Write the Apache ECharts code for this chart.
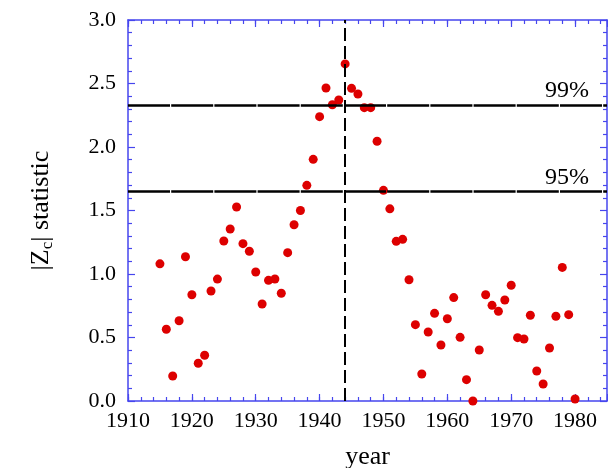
<!DOCTYPE html>
<html>
<head>
<meta charset="utf-8">
<script src="https://cdn.jsdelivr.net/npm/echarts@6/dist/echarts.min.js"></script>
<style>
html,body{margin:0;padding:0;background:#fff;}
#chart{width:608px;height:468px;}
</style>
</head>
<body>
<div id="chart"></div>
<script>
var years = [1915,1916,1917,1918,1919,1920,1921,1922,1923,1924,1925,1926,1927,1928,1929,1930,
  1931,1932,1933,1934,1935,1936,1937,1938,1939,1940,1941,1942,1943,1944,1945,1946,1947,1948,1949,1950,
  1951,1952,1953,1954,1955,1956,1957,1958,1959,1960,1961,1962,1963,1964,1965,1966,1967,1968,1969,1970,
  1971,1972,1973,1974,1975,1976,1977,1978,1979,1980];
var zStat = [1.08,0.565,0.197,0.632,1.136,0.837,0.297,0.36,0.866,0.96,1.26,1.354,1.528,1.239,1.179,1.016,
  0.764,0.95,0.961,0.848,1.168,1.388,1.50,1.698,1.903,2.239,2.465,2.333,2.37,2.654,2.462,2.417,2.31,2.31,2.045,1.659,
  1.513,1.257,1.273,0.955,0.601,0.213,0.543,0.69,0.441,0.648,0.814,0.501,0.168,0.0,0.402,0.837,0.753,0.706,0.795,0.911,
  0.499,0.488,0.675,0.236,0.134,0.417,0.667,1.052,0.68,0.016];
var levels = [2.326, 1.645];
var levelLabels = ['99%', '95%'];
var changeYear = 1944;
var xTicks = ['1910','1920','1930','1940','1950','1960','1970','1980'];

var FONT = "'Liberation Serif','Times New Roman',serif";
var AX = '#4646ee';
var chart = echarts.init(document.getElementById('chart'));

function xAx(pos, interval, tickLen, showLine, showLabel) {
  return {
    type: 'value', position: pos, min: 1910, max: 1985, interval: interval,
    splitLine: {show: false},
    axisLine: {show: showLine, lineStyle: {color: AX, width: 1.5}},
    axisTick: {show: true, inside: true, length: tickLen, lineStyle: {color: AX, width: 1.2}},
    axisLabel: {show: showLabel, color: '#000', fontFamily: FONT, fontSize: 22, margin: 9,
      formatter: function (v) { return xTicks.indexOf(String(v)) >= 0 ? String(v) : ''; }},
    name: showLabel ? 'year' : '', nameLocation: 'middle', nameGap: 43,
    nameTextStyle: {color: '#000', fontFamily: FONT, fontSize: 26}
  };
}
function yAx(pos, showLabel) {
  return {
    type: 'value', position: pos, min: 0, max: 3, interval: 0.5,
    splitLine: {show: false},
    axisLine: {show: true, lineStyle: {color: AX, width: 1.5}},
    axisTick: {show: true, inside: true, length: 7, lineStyle: {color: AX, width: 1.2}},
    minorTick: {show: true, splitNumber: 5, length: 4, lineStyle: {color: AX, width: 1.2}},
    axisLabel: {show: showLabel, color: '#000', fontFamily: FONT, fontSize: 22, margin: 12,
      formatter: function (v) { return v.toFixed(1); }},
    name: showLabel ? '|Z{sub|c}| statistic' : '', nameLocation: 'middle', nameGap: 72, nameRotate: 90,
    nameTextStyle: {color: '#000', fontFamily: FONT, fontSize: 26,
      rich: {sub: {fontFamily: FONT, fontSize: 17, color: '#000', verticalAlign: 'bottom', padding: [12, 0, 0, 0]}}}
  };
}

var markData = levels.map(function (v, i) {
  return {yAxis: v, label: {show: true, formatter: levelLabels[i], position: 'insideEndTop',
    color: '#000', fontFamily: FONT, fontSize: 24, distance: [18, 2]},
    lineStyle: {color: '#000', width: 2.5, type: [42, 1.2]}};
});
markData.push({xAxis: changeYear, label: {show: false},
  lineStyle: {color: '#000', width: 2, type: [13, 5]}});

chart.setOption({
  animation: false,
  grid: {left: 128, right: 1, top: 20, bottom: 67, containLabel: false, outerBoundsMode: 'none'},
  xAxis: [
    xAx('bottom', 10, 7, true, true),
    xAx('bottom', 2, 4, false, false),
    xAx('top', 10, 7, true, false),
    xAx('top', 2, 4, false, false)
  ],
  yAxis: [yAx('left', true), yAx('right', false)],
  series: [{
    type: 'scatter', xAxisIndex: 0, yAxisIndex: 0,
    data: years.map(function (y, i) { return [y, zStat[i]]; }),
    symbol: 'circle', symbolSize: 9,
    itemStyle: {color: '#dd0000', opacity: 1},
    clip: false,
    markLine: {silent: true, symbol: ['none', 'none'], animation: false, data: markData}
  }]
});
</script>
</body>
</html>
